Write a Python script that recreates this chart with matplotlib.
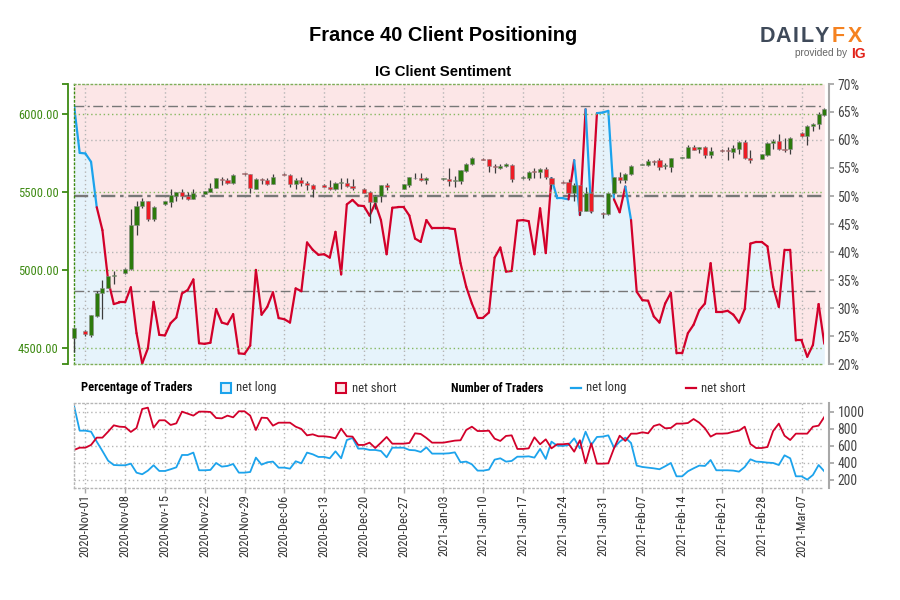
import matplotlib
matplotlib.use('Agg')
import matplotlib.pyplot as plt
import matplotlib.dates as mdates
from matplotlib.lines import Line2D
from matplotlib.patches import Rectangle
import pandas as pd

# daily values, first point is 2020-10-30
start_date = '2020-10-30'

pct_long = [66.25, 57.7, 57.6, 56.1, 48.0, 43.9, 35.0, 30.7, 31.0, 31.0, 33.7, 25.5, 20.1, 22.8, 31.1, 25.2, 25.1, 27.3, 28.3,
            32.6, 33.2, 35.1, 23.7, 23.6, 23.8, 29.8, 27.4, 27.1, 28.9, 21.9, 21.8, 23.3, 36.8, 28.8, 30.2, 32.8, 28.2, 28.0,
            27.4, 33.5, 33.0, 41.7, 40.4, 39.5, 39.6, 39.0, 43.6, 36.0, 48.5, 49.3, 48.3, 48.2, 46.5, 48.7, 45.7, 39.6, 47.9,
            48.0, 48.0, 46.5, 42.4, 41.8, 45.7, 44.2, 44.2, 44.2, 44.2, 44.1, 38.0, 33.8, 30.8, 28.3, 28.3, 29.2, 39.0, 40.8,
            36.5, 36.6, 45.6, 45.7, 45.5, 39.6, 47.8, 39.8, 53.2, 49.6, 49.6, 49.4, 56.4, 46.6, 65.5, 47.2, 64.8, 64.9, 65.2,
            49.4, 47.1, 51.7, 45.7, 32.9, 31.4, 31.3, 28.5, 27.4, 30.8, 32.7, 21.9, 21.9, 25.5, 27.0, 29.6, 30.8, 38.0, 29.3,
            29.3, 29.5, 28.8, 27.4, 29.8, 41.5, 41.8, 41.8, 41.0, 33.8, 30.2, 40.4, 40.4, 24.2, 24.2, 21.3, 23.4, 30.7, 23.6]

N = None
open_px = [4569, N, 4609, 4586, 4710, 4854, 4890, 4963, N, 4983, 5006, 5292, 5416, 5442, 5330, N, 5423, 5440, 5479, 5500, 5479, 5459, N,
           5487, 5502, 5530, 5588, 5582, 5562, N, 5624, 5616, 5521, 5586, 5577, 5556, N, 5620, 5614, 5556, 5577, 5562, 5549, N,
           5549, 5536, 5519, 5560, 5560, 5543, N, 5519, 5500, 5438, 5479, 5545, N, N, 5521, 5545, 5590, 5592, 5579, N, N,
           5586, 5588, 5575, 5575, 5635, 5682, N, 5717, 5715, 5670, 5659, 5667, 5678, N, 5592, 5590, 5635, 5629, 5650, 5594, N,
           5569, 5569, 5498, 5547, 5382, 5498, N, 5369, 5360, 5494, 5599, 5582, 5616, N, 5676, 5674, 5704, 5706, 5667, 5665, N,
           5723, 5723, 5790, 5777, 5792, 5740, N, 5775, 5770, 5760, 5781, 5826, 5723, N, 5717, 5740, 5815, 5828, 5781, 5779, N,
           5878, 5863, 5923, 5938, 5998]
high_px = [4629, N, 4618, 4715, 4865, 4940, 4963, 4998, N, 5015, 5391, 5442, 5466, 5444, 5412, N, 5444, 5524, 5504, 5524, 5502, 5524, N,
           5508, 5558, 5592, 5601, 5590, 5616, N, 5627, 5618, 5590, 5590, 5590, 5620, N, 5624, 5616, 5594, 5601, 5575, 5554, N,
           5554, 5579, 5566, 5594, 5590, 5588, N, 5526, 5506, 5481, 5547, 5560, N, N, 5554, 5599, 5627, 5627, 5599, N, N,
           5594, 5659, 5605, 5644, 5691, 5727, N, 5719, 5717, 5682, 5680, 5691, 5680, N, 5605, 5639, 5659, 5655, 5665, 5599, N,
           5571, 5588, 5558, 5549, 5536, 5500, N, 5373, 5498, 5601, 5631, 5622, 5676, N, 5685, 5717, 5708, 5723, 5691, 5723, N,
           5730, 5803, 5807, 5792, 5798, 5792, N, 5781, 5794, 5807, 5828, 5835, 5770, N, 5749, 5820, 5841, 5873, 5852, 5854, N,
           5886, 5929, 5944, 6013, 6041]
low_px = [4478, N, 4581, 4575, 4704, 4687, 4886, 4916, N, 4978, 5004, 5227, 5397, 5315, 5315, N, 5421, 5406, 5444, 5455, 5451, 5457, N,
          5487, 5500, 5528, 5545, 5551, 5551, N, 5612, 5494, 5519, 5556, 5547, 5554, N, 5612, 5536, 5524, 5539, 5513, 5470, N,
          5532, 5513, 5513, 5519, 5536, 5515, N, 5494, 5305, 5391, 5440, 5517, N, N, 5519, 5536, 5586, 5571, 5551, N, N,
          5579, 5541, 5534, 5554, 5631, 5678, N, 5708, 5631, 5624, 5648, 5661, 5566, N, 5588, 5579, 5590, 5590, 5584, 5519, N,
          5558, 5491, 5444, 5352, 5380, 5369, N, 5335, 5358, 5491, 5558, 5562, 5612, N, 5674, 5670, 5674, 5644, 5652, 5631, N,
          5721, 5721, 5770, 5755, 5723, 5721, N, 5760, 5706, 5723, 5745, 5712, 5687, N, 5712, 5734, 5777, 5773, 5760, 5745, N,
          5858, 5803, 5895, 5906, 5991]
close_px = [4629, N, 4590, 4712, 4852, 4888, 4963, 4972, N, 5011, 5292, 5416, 5442, 5330, 5408, N, 5442, 5481, 5502, 5474, 5459, 5498, N,
            5506, 5530, 5590, 5582, 5560, 5612, N, 5616, 5526, 5584, 5579, 5554, 5601, N, 5614, 5556, 5577, 5558, 5549, 5521, N,
            5536, 5524, 5562, 5564, 5543, 5528, N, 5498, 5438, 5479, 5545, 5534, N, N, 5551, 5597, 5594, 5582, 5592, N, N,
            5590, 5575, 5579, 5642, 5685, 5723, N, 5710, 5667, 5663, 5672, 5680, 5584, N, 5599, 5633, 5629, 5650, 5599, 5551, N,
            5562, 5498, 5549, 5380, 5498, 5380, N, 5363, 5496, 5599, 5582, 5620, 5670, N, 5682, 5702, 5697, 5665, 5674, 5721, N,
            5727, 5788, 5775, 5790, 5740, 5764, N, 5768, 5764, 5783, 5826, 5721, 5706, N, 5745, 5815, 5828, 5777, 5775, 5852, N,
            5863, 5925, 5940, 6002, 6036]

traders_long = [1070, 776, 776, 764, 647, 537, 423, 372, 369, 369, 388, 282, 263, 306, 369, 302, 302, 322, 345, 490, 490, 518, 310, 310,
                314, 396, 353, 361, 384, 282, 282, 290, 459, 376, 404, 412, 341, 341, 329, 416, 392, 518, 498, 467, 467, 451, 533, 451,
                666, 690, 565, 565, 549, 549, 537, 463, 576, 576, 576, 549, 545, 525, 580, 506, 506, 506, 510, 521, 404, 412, 380, 306,
                306, 318, 435, 451, 412, 420, 470, 470, 474, 459, 561, 443, 647, 600, 596, 608, 686, 568, 764, 608, 702, 706, 721, 576,
                647, 694, 631, 365, 349, 341, 333, 322, 357, 396, 239, 239, 298, 333, 365, 361, 431, 310, 310, 310, 306, 294, 349, 439,
                412, 408, 400, 396, 372, 486, 451, 239, 239, 200, 255, 372, 298]
traders_short = [549, 576, 576, 608, 694, 694, 764, 839, 823, 819, 761, 808, 1031, 1047, 812, 898, 898, 843, 862, 1000, 976, 953, 1000,
                 1000, 996, 925, 921, 953, 933, 1004, 1004, 953, 784, 929, 925, 835, 870, 870, 870, 823, 796, 721, 733, 710, 710, 702,
                 686, 800, 710, 706, 608, 608, 635, 572, 635, 702, 623, 623, 623, 631, 745, 737, 690, 635, 635, 635, 647, 659, 663, 784,
                 823, 772, 772, 776, 682, 655, 714, 721, 561, 561, 568, 698, 616, 674, 568, 616, 616, 623, 529, 663, 392, 627, 388, 388,
                 392, 568, 717, 655, 741, 741, 757, 745, 831, 851, 804, 808, 859, 859, 866, 913, 870, 804, 706, 741, 741, 745, 764, 776,
                 823, 619, 572, 572, 584, 772, 859, 717, 666, 741, 741, 741, 823, 835, 937]

price_ticks = [4500, 5000, 5500, 6000]
pct_ticks = [20, 25, 30, 35, 40, 45, 50, 55, 60, 65, 70]
trader_ticks = [200, 400, 600, 800, 1000]

BLUE = '#1ca3ec'
RED = '#d2002a'
GREEN = '#3d8a12'
GRID = '#b5b5b5'
NARROW = ['Roboto Condensed', 'Roboto', 'DejaVu Sans']
DOTS = (0, (1, 2))

dates = pd.date_range(start_date, periods=len(pct_long))
W, H = 900, 600


def fx(x):
    return x / W


def fy(y):
    return 1 - y / H


def axes_px(left, top, right, bottom):
    return fig.add_axes([fx(left), fy(bottom), (right - left) / W, (bottom - top) / H])


def week_axis(ax):
    ax.set_xlim(dates[0], dates[-1])
    ax.xaxis.set_major_locator(mdates.WeekdayLocator(byweekday=mdates.SU))
    ax.xaxis.set_major_formatter(mdates.DateFormatter('%Y-%b-%d'))


fig = plt.figure(figsize=(9, 6), dpi=100)
fig.patch.set_facecolor('white')

fig.text(fx(443), fy(35.5), 'France 40 Client Positioning', ha='center', va='center', fontsize=14.4,
         fontweight='bold', family='Liberation Sans', color='black')
fig.text(fx(443), fy(72.5), 'IG Client Sentiment', ha='center', va='center', fontsize=10.7,
         fontweight='bold', family='Liberation Sans', color='black')

# logo, letter by letter
logo = [('D', 767, '#3f4a5a'), ('A', 783, '#3f4a5a'), ('I', 796, '#3f4a5a'), ('L', 807.5, '#3f4a5a'),
        ('Y', 821.5, '#3f4a5a'), ('F', 838, '#f58220'), ('X', 855, '#f58220')]
for letter, x, col in logo:
    fig.text(fx(x), fy(36), letter, ha='center', va='center', fontsize=15.5, fontweight='bold',
             family='Liberation Sans', color=col)
fig.text(fx(795), fy(53.5), 'provided by', ha='left', va='center', fontsize=7.3, family='Liberation Sans', color='#666666')
fig.text(fx(858), fy(53.5), 'IG', ha='center', va='center', fontsize=10, fontweight='bold', family='Liberation Sans', color='#e2231a')

# ---- sentiment panel
ax = axes_px(74, 84, 824.3, 364)
ax.fill_between(dates, pct_long, 20, color='#e6f3fb', lw=0)
ax.fill_between(dates, pct_long, 70, color='#fce6e7', lw=0)
ax.set_ylim(20, 70)
week_axis(ax)
ax.tick_params(axis='x', length=0, labelbottom=False)
ax.grid(axis='x', color=GRID, ls=DOTS, lw=1)
for t in [30, 40, 60]:
    ax.axhline(t, color=GRID, ls=DOTS, lw=1, zorder=1.5)
ax.axhline(66, color='#777777', lw=1, ls=(0, (7, 2.5, 1.5, 2.5)), zorder=1.6)
ax.axhline(33, color='#777777', lw=1, ls=(0, (7, 2.5, 1.5, 2.5)), zorder=1.6)
ax.axhline(50, color='#777777', lw=1.7, ls=(0, (6, 2, 1.5, 2)), zorder=1.6)

# line is blue while net long is the majority, red otherwise
for i in range(len(pct_long) - 1):
    col = BLUE if pct_long[i] >= 49.5 else RED
    ax.plot(dates[i:i + 2], pct_long[i:i + 2], color=col, lw=1.6, solid_capstyle='round', zorder=2)

ax.spines['top'].set_visible(False)
ax.spines['bottom'].set_visible(False)
ax.spines['left'].set_color(GREEN)
ax.spines['left'].set_linestyle(DOTS)
ax.spines['left'].set_linewidth(1)
ax.spines['right'].set_position(('outward', 3.4))
ax.spines['right'].set_color('#a8a8a8')
ax.spines['right'].set_linewidth(1.5)

# candles on a second y axis
ax_px = ax.twinx()
ax_px.set_ylim(4400, 6195)
week_axis(ax_px)
ax_px.yaxis.tick_left()
ax_px.set_yticks([4400] + price_ticks + [6195])
ax_px.set_yticklabels([''] + ['%.2f' % t for t in price_ticks] + [''])
ax_px.tick_params(axis='y', length=4.3, width=1.3, color=GREEN, pad=2.5, labelsize=9,
                  labelcolor=GREEN, labelfontfamily='Roboto Condensed')
ax_px.tick_params(axis='x', length=0, labelbottom=False)
ax_px.spines['right'].set_visible(False)
ax_px.spines['left'].set_position(('outward', 4.3))
ax_px.spines['left'].set_color(GREEN)
ax_px.spines['left'].set_linewidth(1.3)
for side in ['top', 'bottom']:
    ax_px.spines[side].set_color('#7fae5a')
    ax_px.spines[side].set_linestyle(DOTS)
    ax_px.spines[side].set_linewidth(1)
for t in price_ticks:
    ax_px.axhline(t, color='#86b860', ls=DOTS, lw=1, zorder=1)

# twinx moves the first axis ticks back to the left, so set them here
ax.yaxis.tick_right()
ax.set_yticks(pct_ticks)
ax.set_yticklabels([str(t) + '%' for t in pct_ticks])
ax.tick_params(axis='y', length=3.6, width=1.3, color='#a8a8a8', pad=2.5, labelsize=9.8,
               labelcolor='#444444', labelfontfamily='Roboto Condensed')

for i, d in enumerate(dates):
    if open_px[i] is None:
        continue
    up = close_px[i] >= open_px[i]
    ax_px.vlines(d, low_px[i], high_px[i], color='#3c3c3c', lw=0.9, zorder=3, clip_on=False)
    ax_px.bar(d, abs(close_px[i] - open_px[i]), bottom=min(open_px[i], close_px[i]), width=0.72,
              color='#2c7a0c' if up else '#ee1c25', edgecolor='#8a8a8a', lw=0.4, zorder=4, clip_on=False)

# ---- trader count panel
ax2 = axes_px(74, 403.3, 824.3, 488.3)
ax2.plot(dates, traders_long, color=BLUE, lw=1.3)
ax2.plot(dates, traders_short, color=RED, lw=1.3)
ax2.set_ylim(98, 1098)
week_axis(ax2)
ax2.set_yticks(trader_ticks)
ax2.yaxis.tick_right()
ax2.tick_params(axis='y', length=3.6, width=1.3, color='#a8a8a8', labelcolor='#444444', labelsize=9.8, pad=2.5,
                labelfontfamily='Roboto Condensed')
ax2.tick_params(axis='x', length=3.6, width=1, color='#a8a8a8', labelcolor='#333333', labelsize=9, pad=0.8,
                labelfontfamily='Roboto Condensed', labelrotation=90)
ax2.grid(True, color=GRID, ls=DOTS, lw=1)
ax2.set_axisbelow(True)
for side in ['top', 'bottom', 'left']:
    ax2.spines[side].set_color(GRID)
    ax2.spines[side].set_linestyle(DOTS)
    ax2.spines[side].set_linewidth(1)
ax2.spines['right'].set_position(('outward', 3.4))
ax2.spines['right'].set_color('#a8a8a8')
ax2.spines['right'].set_linewidth(1.5)

# ---- legend row
fig.text(fx(81), fy(388), 'Percentage of Traders', ha='left', va='center', family=NARROW, fontsize=8.9, fontweight='bold')
fig.text(fx(451), fy(388), 'Number of Traders', ha='left', va='center', family=NARROW, fontsize=8.8, fontweight='bold')
fig.add_artist(Rectangle((fx(221), fy(393)), 10 / W, 10 / H, transform=fig.transFigure, fc='#e6f3fb', ec=BLUE, lw=1.5))
fig.add_artist(Rectangle((fx(336), fy(393)), 10 / W, 10 / H, transform=fig.transFigure, fc='#fce6e7', ec=RED, lw=1.5))
fig.text(fx(236), fy(388), 'net long', ha='left', va='center', family=NARROW, fontsize=9.1, color='#333333')
fig.text(fx(352), fy(388), 'net short', ha='left', va='center', family=NARROW, fontsize=9.1, color='#333333')
fig.add_artist(Line2D([fx(571), fx(581)], [fy(387.5), fy(387.5)], transform=fig.transFigure, color=BLUE, lw=1.6))
fig.add_artist(Line2D([fx(686), fx(696)], [fy(387.5), fy(387.5)], transform=fig.transFigure, color=RED, lw=1.6))
fig.text(fx(586), fy(388), 'net long', ha='left', va='center', family=NARROW, fontsize=9.1, color='#333333')
fig.text(fx(701), fy(388), 'net short', ha='left', va='center', family=NARROW, fontsize=9.1, color='#333333')

fig.savefig('out.png', dpi=100)
